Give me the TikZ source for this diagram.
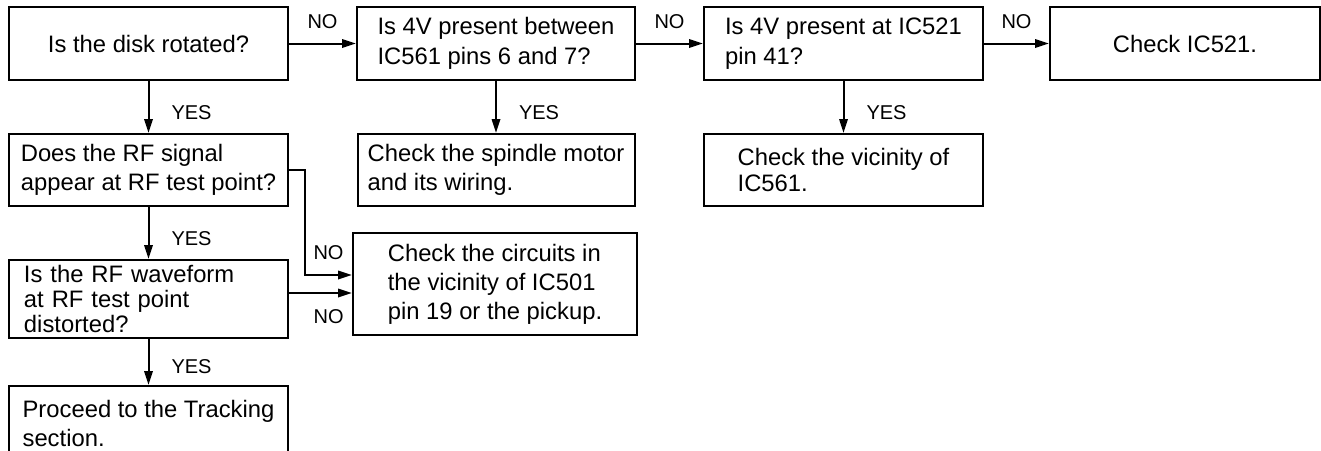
\documentclass[tikz,border=0pt]{standalone}
\usepackage{fontspec}
\setmainfont{Liberation Sans}
\usetikzlibrary{arrows.meta,positioning}

\begin{document}
\begin{tikzpicture}[
  box/.style={draw, line width=1pt, minimum width=139.5pt, minimum height=36.5pt, align=left, inner sep=0pt, font=\fontsize{11.9pt}{14.5pt}\selectfont},
  tight/.style={font=\fontsize{11.9pt}{12.7pt}\selectfont},
  loose/.style={font=\fontsize{11.9pt}{15pt}\selectfont},
  lbl/.style={inner sep=0pt, font=\fontsize{10pt}{12pt}\selectfont},
  arr/.style={-{Triangle[length=7pt,width=4.2pt]}, line width=1pt},
]
  \useasboundingbox (0,0) rectangle (660.5pt,-225pt);

  % top row
  \node[box, anchor=north west] (disk) at (4pt,-3pt) {Is the disk rotated?};
  \node[box, loose, minimum width=139pt, right=33.5pt of disk] (volt) {Is 4V present between\\IC561 pins 6 and 7?};
  \node[box, loose, right=33.5pt of volt] (pin) {Is 4V present at IC521\\pin 41?};
  \node[box, minimum width=135pt, right=32.5pt of pin] (chk) {Check IC521.};

  % yes branches
  \node[box, minimum height=36pt, below=26pt of disk] (rf) {Does the RF signal\\appear at RF test point?};
  \node[box, tight, minimum height=39pt, text width=124.5pt, below=26pt of rf] (wave) {Is the RF waveform\\at RF test point\\distorted?};
  \node[box, minimum height=37pt, below=23pt of wave] (track) {Proceed to the Tracking\\section.};
  \node[box, minimum width=138.5pt, minimum height=36pt, below=26pt of volt] (motor) {Check the spindle motor\\and its wiring.};
  \node[box, tight, minimum height=36pt, below=26pt of pin] (vic) {Check the vicinity of\\IC561.};
  \node[box, minimum width=142pt, minimum height=51pt, anchor=north west] (pick) at (176pt,-116pt) {Check the circuits in\\the vicinity of IC501\\pin 19 or the pickup.};

  \draw[arr] (disk.east) -- node[lbl, above=7pt] {NO} (volt.west);
  \draw[arr] (volt.east) -- node[lbl, above=7pt] {NO} (pin.west);
  \draw[arr] (pin.east) -- node[lbl, above=7pt] {NO} (chk.west);

  \draw[arr] (disk) -- node[lbl, pos=0.6, right=11pt] {YES} (rf);
  \draw[arr] (rf) -- node[lbl, pos=0.6, right=11pt] {YES} (wave);
  \draw[arr] (wave) -- node[lbl, pos=0.6, right=11pt] {YES} (track);
  \draw[arr] (volt.south) -- node[lbl, pos=0.6, right=11pt] {YES} (volt.south |- motor.north);
  \draw[arr] (pin) -- node[lbl, pos=0.6, right=11pt] {YES} (vic);

  % no branches to pickup check
  \draw[arr] (rf.east) -- ++(8pt,0) |- node[lbl, pos=0.75, above=7pt] {NO} ([yshift=4.5pt]pick.west);
  \draw[arr] ([yshift=-4.5pt]pick.west -| wave.east) -- node[lbl, pos=0.63, below=8pt] {NO} ([yshift=-4.5pt]pick.west);
\end{tikzpicture}
\end{document}
